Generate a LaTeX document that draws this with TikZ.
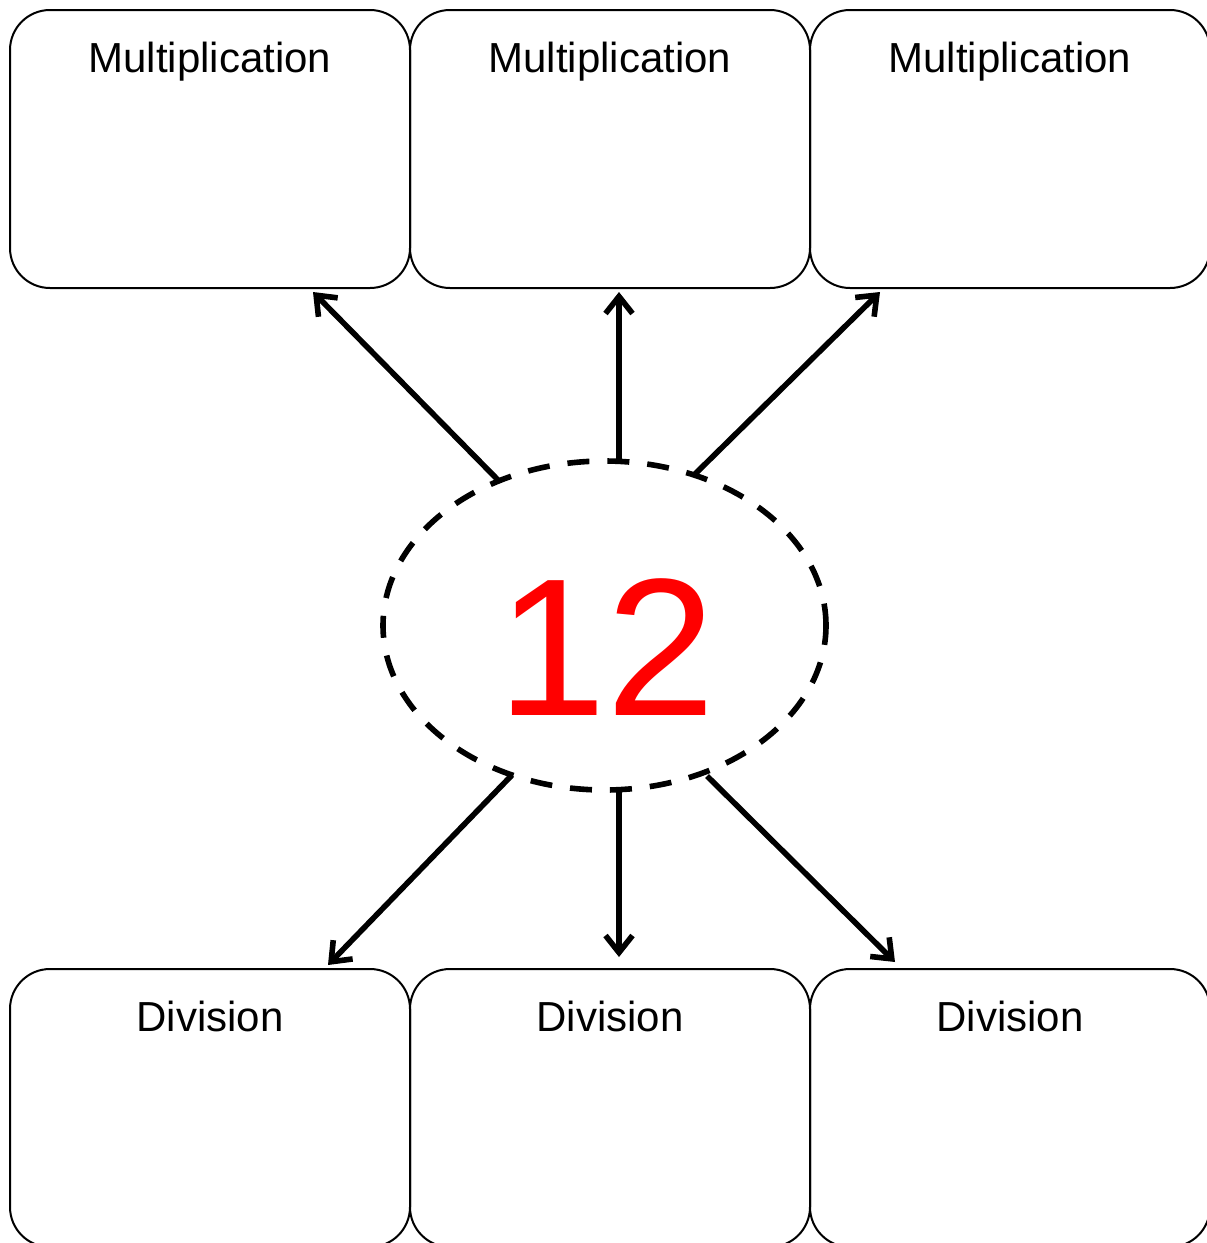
\documentclass[tikz,border=0pt]{standalone}
\usepackage{fontspec}
\setmainfont{Liberation Sans}
\usetikzlibrary{arrows.meta,shapes.geometric,positioning}

\begin{document}
\begin{tikzpicture}[x=1pt,y=-1pt,>={Straight Barb[length=17pt,width=27pt]},
    box/.style={draw,line width=2pt,rounded corners=40pt,minimum width=400pt,minimum height=278pt,inner sep=0pt},
    box label/.style={anchor=base,inner sep=0pt,font=\fontsize{42}{48}\selectfont},
    link/.style={->,line width=5.6pt}]

    \useasboundingbox (0,0) rectangle (1207,1243);

    \foreach \i/\x in {1/210,2/610,3/1010}{
        \node[box] (m\i) at (\x,149) {};
        \node[box label] (m\i text) at ([yshift=-63pt]m\i.north) {Multiplication};
        \node[box] (d\i) at (\x,1108) {};
        \node[box label] (d\i text) at ([yshift=-63pt]d\i.north) {Division};
    }

    \node[draw,ellipse,dashed,dash pattern=on 22pt off 18pt,line width=5.6pt,
          minimum width=443pt,minimum height=329pt,inner sep=0pt] (num) at (604.5,625.5) {};
    \node[anchor=base,inner sep=0pt,text=red,font=\fontsize{196}{200}\selectfont] (num text) at (607,715) {12};

    % start points on the ellipse
    \coordinate (s1) at (498,480);
    \coordinate (s2) at (619,462);
    \coordinate (s3) at (693,476);
    \coordinate (t1) at (512,775);
    \coordinate (t2) at (619,790);
    \coordinate (t3) at (707,776);

    \draw[link] (s1) -- ([xshift=103pt,yshift=-3pt]m1.south);
    \draw[link] (s2) -- ([xshift=9pt,yshift=-3pt]m2.south);
    \draw[link] (s3) -- ([xshift=-130pt,yshift=-3pt]m3.south);
    \draw[link] (t1) -- ([xshift=118pt,yshift=3pt]d1.north);
    \draw[link] (t2) -- ([xshift=9pt,yshift=11pt]d2.north);
    \draw[link] (t3) -- ([xshift=-115pt,yshift=6pt]d3.north);

\end{tikzpicture}
\end{document}
